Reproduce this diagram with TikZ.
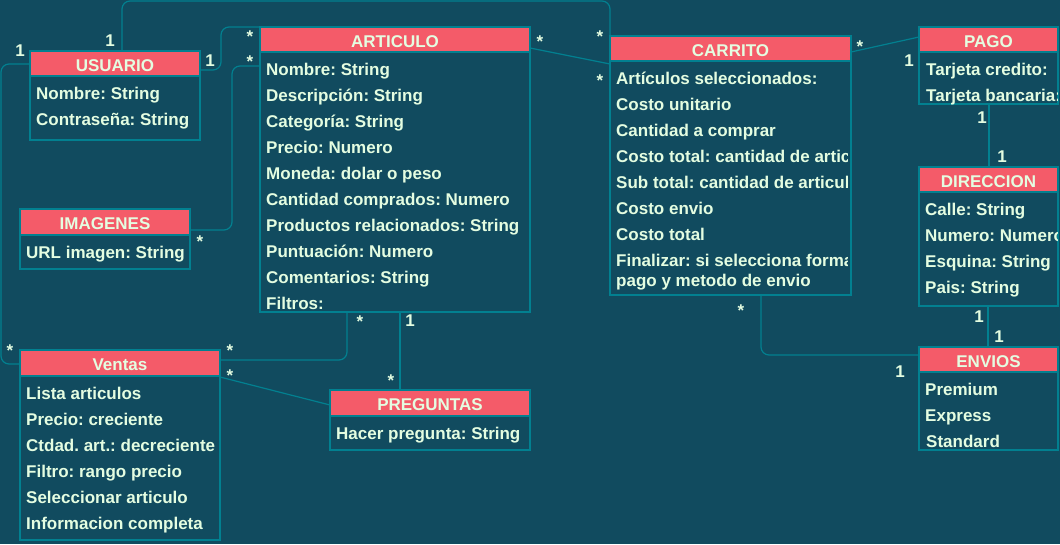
\documentclass[tikz,border=0pt]{standalone}
\usepackage{fontspec}
\setmainfont{Liberation Sans}
\definecolor{bg}{HTML}{114B5F}
\definecolor{edge}{HTML}{028090}
\definecolor{head}{HTML}{F45B69}
\definecolor{ink}{HTML}{E4FDE1}
\tikzset{
 body/.style={draw=edge, line width=1.2pt, fill=bg, inner sep=0pt, outer sep=0pt, anchor=north west},
 headbox/.style={draw=edge, line width=1.2pt, fill=head, inner sep=0pt, outer sep=0pt, anchor=north west,
   minimum height=25pt, text=ink, font=\fontsize{17}{20}\selectfont\bfseries, text height=15pt, text depth=0pt},
 row/.style={anchor=base west, inner sep=0pt, text=ink, font=\fontsize{17}{20}\selectfont\bfseries},
 mult/.style={anchor=base, inner sep=0pt, text=ink, font=\fontsize{17}{20}\selectfont\bfseries},
 conn/.style={draw=edge, line width=1.2pt, rounded corners=8pt},
}
\begin{document}
\frenchspacing
\begin{tikzpicture}[x=1pt,y=-1pt]
\useasboundingbox (0,0) rectangle (1060,544);
\fill[bg] (0,0) rectangle (1060,544);

% USUARIO
\node[body, minimum width=170pt, minimum height=89pt] (usuario) at (30,51) {};
\node[headbox, minimum width=170pt] (usuarioH) at (30,51) {USUARIO};
\node[row] (u1) at (36,99) {Nombre: String};
\node[row] (u2) at (36,125) {Contraseña: String};

% ARTICULO
\node[body, minimum width=270pt, minimum height=285pt] (articulo) at (260,27) {};
\node[headbox, minimum width=270pt] (articuloH) at (260,27) {ARTICULO};
\node[row] (a1) at (266,75) {Nombre: String};
\node[row] (a2) at (266,101) {Descripción: String};
\node[row] (a3) at (266,127) {Categoría: String};
\node[row] (a4) at (266,153) {Precio: Numero};
\node[row] (a5) at (266,179) {Moneda: dolar o peso};
\node[row] (a6) at (266,205) {Cantidad comprados: Numero};
\node[row] (a7) at (266,231) {Productos relacionados: String};
\node[row] (a8) at (266,257) {Puntuación: Numero};
\node[row] (a9) at (266,283) {Comentarios: String};
\node[row] (a10) at (266,309) {Filtros:};

% CARRITO
\node[body, minimum width=241pt, minimum height=259pt] (carrito) at (610,36) {};
\node[headbox, minimum width=241pt] (carritoH) at (610,36) {CARRITO};
\begin{scope}
\clip (610,61) rectangle (847,295);
\node[row] (c1) at (616,84) {Artículos seleccionados:};
\node[row] (c2) at (616,110) {Costo unitario};
\node[row] (c3) at (616,136) {Cantidad a comprar};
\node[row] (c4) at (616,162) {Costo total: cantidad de artic};
\node[row] (c5) at (616,188) {Sub total: cantidad de articul};
\node[row] (c6) at (616,214) {Costo envio};
\node[row] (c7) at (616,240) {Costo total};
\node[row] (c8) at (616,266) {Finalizar: si selecciona forma};
\node[row] (c9) at (616,286) {pago y metodo de envio};
\end{scope}

% IMAGENES
\node[body, minimum width=170pt, minimum height=60pt] (imagenes) at (20,209) {};
\node[headbox, minimum width=170pt, minimum height=26pt] (imagenesH) at (20,209) {IMAGENES};
\node[row] (i1) at (26,258) {URL imagen: String};

% Ventas
\node[body, minimum width=200pt, minimum height=190pt] (ventas) at (20,350) {};
\node[headbox, minimum width=200pt, minimum height=26pt] (ventasH) at (20,350) {Ventas};
\node[row] (v1) at (26,399) {Lista articulos};
\node[row] (v2) at (26,425) {Precio: creciente};
\node[row] (v3) at (26,451) {Ctdad. art.: decreciente};
\node[row] (v4) at (26,477) {Filtro: rango precio};
\node[row] (v5) at (26,503) {Seleccionar articulo};
\node[row] (v6) at (26,529) {Informacion completa};

% PREGUNTAS
\node[body, minimum width=200pt, minimum height=60pt] (preguntas) at (330,390) {};
\node[headbox, minimum width=200pt, minimum height=26pt] (preguntasH) at (330,390) {PREGUNTAS};
\node[row] (p1) at (336,439) {Hacer pregunta: String};

% PAGO
\node[body, minimum width=139pt, minimum height=77pt] (pago) at (919,27) {};
\node[headbox, minimum width=139pt] (pagoH) at (919,27) {PAGO};
\begin{scope}
\clip (919,52) rectangle (1057,104);
\node[row] (g1) at (926,75) {Tarjeta credito:};
\node[row] (g2) at (926,101) {Tarjeta bancaria:};
\end{scope}

% DIRECCION
\node[body, minimum width=139pt, minimum height=139pt] (direccion) at (919,167) {};
\node[headbox, minimum width=139pt] (direccionH) at (919,167) {DIRECCION};
\begin{scope}
\clip (919,192) rectangle (1057,306);
\node[row] (d1) at (925,215) {Calle: String};
\node[row] (d2) at (925,241) {Numero: Numero};
\node[row] (d3) at (925,267) {Esquina: String};
\node[row] (d4) at (925,293) {Pais: String};
\end{scope}

% ENVIOS
\node[body, minimum width=139pt, minimum height=103pt] (envios) at (919,347) {};
\node[headbox, minimum width=139pt] (enviosH) at (919,347) {ENVIOS};
\node[row] (e1) at (925,395) {Premium};
\node[row] (e2) at (925,421) {Express};
\node[row] (e3) at (926,447) {Standard};

% connectors
\draw[conn] (usuario.north -| 122,0) -- (122,1) -- (610,1) -- (carrito.north west);
\draw[conn] (usuario.east |- 0,70) -- (221,70) -- (221,27) -- (articulo.north west);
\draw[conn] (articulo.west |- 0,66) -- (232,66) -- (232,230) -- (imagenes.east |- 0,230);
\draw[conn] (usuario.west |- 0,64) -- (1,64) -- (1,364) -- (ventas.west |- 0,364);
\draw[conn] (articulo.south -| 347,0) -- (347,360) -- (ventas.east |- 0,360);
\draw[conn] (ventas.east |- 0,377) -- (preguntas.west |- 0,405);
\draw[conn] (articulo.south -| 400,0) -- (preguntas.north -| 400,0);
\draw[conn] (articulo.east |- 0,48) -- (carrito.west |- 0,64);
\draw[conn] (carrito.east |- 0,52) -- (pago.west |- 0,37);
\draw[conn] (pago.south -| 989,0) -- (direccion.north -| 989,0);
\draw[conn] (direccion.south -| 988,0) -- (envios.north -| 988,0);
\draw[conn] (carrito.south -| 761,0) -- (761,355) -- (envios.west |- 0,355);

% multiplicities
\node[mult] (m1) at (110,46) {1};
\node[mult] (m2) at (600,42) {*};
\node[mult] (m3) at (210,66) {1};
\node[mult] (m4) at (250,42) {*};
\node[mult] (m5) at (250,67) {*};
\node[mult] (m6) at (200,247) {*};
\node[mult] (m7) at (20,56) {1};
\node[mult] (m8) at (10,356) {*};
\node[mult] (m9) at (230,356) {*};
\node[mult] (m10) at (360,327) {*};
\node[mult] (m11) at (230,381) {*};
\node[mult] (m12) at (410,326) {1};
\node[mult] (m13) at (391,386) {*};
\node[mult] (m14) at (540,47) {*};
\node[mult] (m15) at (600,86) {*};
\node[mult] (m16) at (860,52) {*};
\node[mult] (m17) at (909,66) {1};
\node[mult] (m18) at (982,123) {1};
\node[mult] (m19) at (1002,162) {1};
\node[mult] (m20) at (741,316) {*};
\node[mult] (m21) at (979,322) {1};
\node[mult] (m22) at (999,342) {1};
\node[mult] (m23) at (900,377) {1};
\end{tikzpicture}
\end{document}
